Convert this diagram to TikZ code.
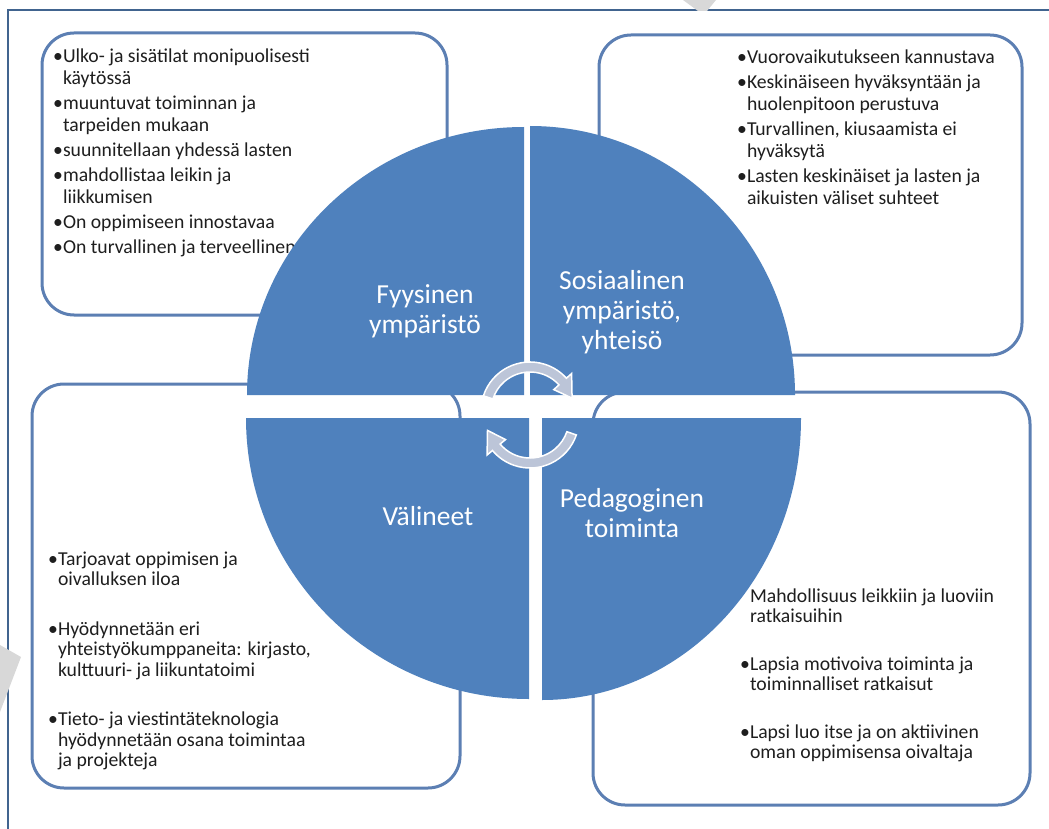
\documentclass[tikz,border=0pt]{standalone}
\usepackage{fontspec}
\setmainfont{Carlito}

\definecolor{quadblue}{HTML}{4F81BD}
\definecolor{boxline}{HTML}{5C7FB3}
\definecolor{framecol}{HTML}{41648F}
\definecolor{arrowfill}{HTML}{BCC5D8}
\definecolor{wmark}{HTML}{D8D8D8}
\definecolor{txt}{HTML}{1E1E1E}

\tikzset{
  infobox/.style={draw=boxline, line width=3pt, rounded corners=32pt, fill=white},
  quad/.style={fill=quadblue},
  cyclearrow/.style={fill=arrowfill, draw=white, line width=1.5pt},
  bullets/.style={anchor=base west, inner sep=0pt, text=txt, font=\fontsize{19.7}{22}\selectfont},
  bullets low/.style={bullets, font=\fontsize{19.7}{20.5}\selectfont},
  quadlabel/.style={anchor=base, inner sep=0pt, text=white, font=\fontsize{27.5}{30}\selectfont},
}

\begin{document}
\begin{tikzpicture}[x=1pt, y=-1pt]
\useasboundingbox (0,0) rectangle (1049,829);

% frame and watermark bits
\draw[framecol, line width=1.5pt] (8,829) -- (8,10) -- (1049,10);
\fill[wmark] (683,0) -- (716,0) -- (707,11) -- (698,11) -- cycle;
\fill[wmark] (0,645) -- (21,657) -- (0,712) -- cycle;

% the four boxes (behind the circle)
\node (fysbox) [infobox, minimum width=405pt, minimum height=282pt] at (244.5,174) {};
\node (sosbox) [infobox, minimum width=423pt, minimum height=320pt] at (810.5,195) {};
\node (valbox) [infobox, minimum width=428pt, minimum height=404pt] at (246,586) {};
\node (pedbox) [infobox, minimum width=437pt, minimum height=413pt] at (811.5,598.5) {};

\node (fystext) [bullets] at (53,63) {\begin{tabular}[t]{@{}l@{}l@{}}
•&Ulko- ja sisätilat monipuolisesti\\
&käytössä\\[3pt]
•&muuntuvat toiminnan ja\\
&tarpeiden mukaan\\[3pt]
•&suunnitellaan yhdessä lasten\\[3pt]
•&mahdollistaa leikin ja\\
&liikkumisen\\[3pt]
•&On oppimiseen innostavaa\\[3pt]
•&On turvallinen ja terveellinen
\end{tabular}};

\node (sostext) [bullets] at (737,64) {\begin{tabular}[t]{@{}l@{}l@{}}
•&Vuorovaikutukseen kannustava\\[3pt]
•&Keskinäiseen hyväksyntään ja\\
&huolenpitoon perustuva\\[3pt]
•&Turvallinen, kiusaamista ei\\
&hyväksytä\\[3pt]
•&Lasten keskinäiset ja lasten ja\\
&aikuisten väliset suhteet
\end{tabular}};

\node (valtext) [bullets low] at (48,565) {\begin{tabular}[t]{@{}l@{}l@{}}
•&Tarjoavat oppimisen ja\\
&oivalluksen iloa\\[29pt]
•&Hyödynnetään eri\\
&yhteistyökumppaneita: kirjasto,\\
&kulttuuri- ja liikuntatoimi\\[29pt]
•&Tieto- ja viestintäteknologia\\
&hyödynnetään osana toimintaa\\
&ja projekteja
\end{tabular}};

\node (pedtext) [bullets low] at (740,602) {\begin{tabular}[t]{@{}l@{}l@{}}
&Mahdollisuus leikkiin ja luoviin\\
&ratkaisuihin\\[27pt]
•&Lapsia motivoiva toiminta ja\\
&toiminnalliset ratkaisut\\[27pt]
•&Lapsi luo itse ja on aktiivinen\\
&oman oppimisensa oivaltaja
\end{tabular}};

% circle quarters
\fill[quad] (524,395) -- ++(-277,0) arc[start angle=180, end angle=270, x radius=277, y radius=268] -- cycle;
\fill[quad] (530,395) -- ++(0,-269) arc[start angle=270, end angle=360, x radius=265, y radius=269] -- cycle;
\fill[quad] (542,418) -- ++(259,0) arc[start angle=0, end angle=90, x radius=259, y radius=282] -- cycle;
\fill[quad] (529,418) -- ++(0,281) arc[start angle=90, end angle=180, x radius=283, y radius=281] -- cycle;

% cycle arrows
\begin{scope}[shift={(530,411)}]
  \filldraw[cyclearrow] (198:49) arc[start angle=198, end angle=318, radius=49]
    -- (318:56) -- (343:44) -- (318:32) -- (318:39)
    arc[start angle=318, end angle=198, radius=39] -- cycle;
\end{scope}
\begin{scope}[shift={(530,419)}]
  \filldraw[cyclearrow] (19:49) arc[start angle=19, end angle=140, radius=49]
    -- (140:56) -- (165:44) -- (140:32) -- (140:39)
    arc[start angle=140, end angle=19, radius=39] -- cycle;
\end{scope}

% quarter labels
\node (fyslabel) [quadlabel] at (425,303) {\begin{tabular}[t]{@{}c@{}}Fyysinen\\ympäristö\end{tabular}};
\node (soslabel) [quadlabel] at (622,289) {\begin{tabular}[t]{@{}c@{}}Sosiaalinen\\ympäristö,\\yhteisö\end{tabular}};
\node (vallabel) [quadlabel] at (428,525) {Välineet};
\node (pedlabel) [quadlabel] at (632,507) {\begin{tabular}[t]{@{}c@{}}Pedagoginen\\toiminta\end{tabular}};
\end{tikzpicture}
\end{document}
